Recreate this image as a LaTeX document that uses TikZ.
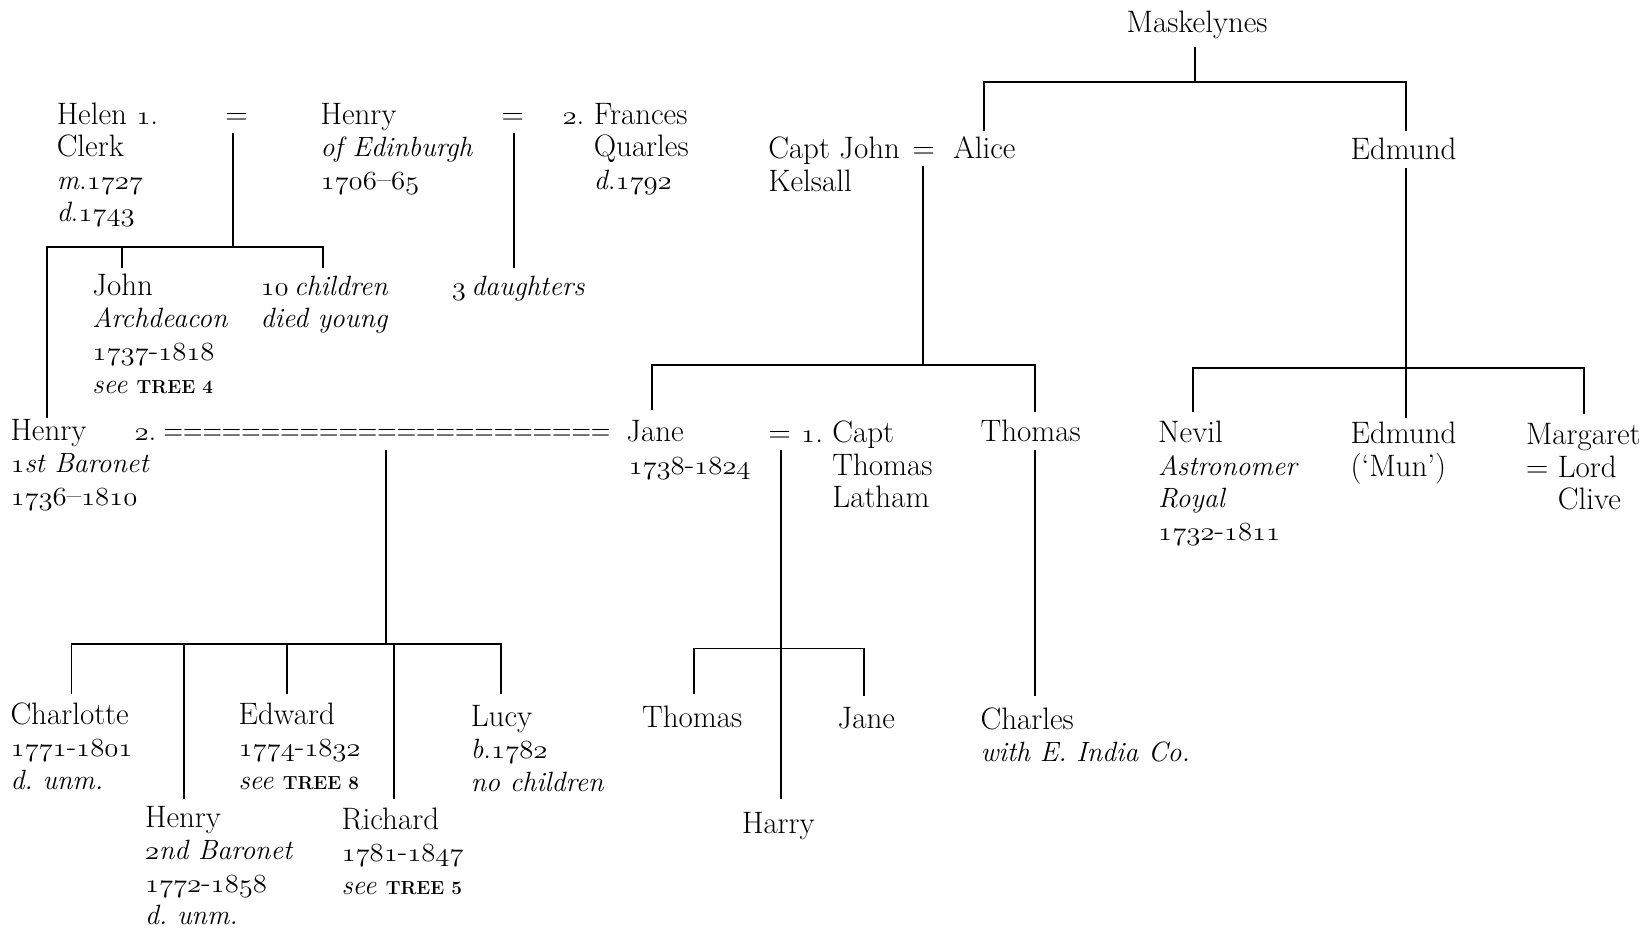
\documentclass[tikz,border=0pt]{standalone}
\usepackage{graphicx}
\newcommand\osn[1]{\scalebox{1.1}[1]{\ifdefined\legacyoldstylenums\legacyoldstylenums{#1}\else\oldstylenums{#1}\fi}}
\newcommand\plines[1]{\begin{tabular}[t]{@{}l@{}}#1\end{tabular}}
\newcommand\myit[1]{{\fontsize{26.5}{31}\selectfont\itshape #1}}
\newcommand\treeref[1]{\myit{see} {\fontsize{18}{18}\selectfont\bfseries TREE #1}}
\newcommand\fs{\fontsize{29.5}{31}\selectfont}
\begin{document}
\begin{tikzpicture}[x=1pt,y=-1pt,
  every node/.style={inner sep=0pt,outer sep=0pt,font=\fs},
  person/.style={anchor=base west},
  mid/.style={anchor=base},
  link/.style={line width=1.8pt}]
\useasboundingbox (0,0) rectangle (1568,883);

% ---- Maskelyne side ----
\node[mid] (mask) at (1139,31) {Maskelynes};
\node[person] (cjohn) at (731,151) {\plines{Capt John\\Kelsall}};
\node[mid] (eqA) at (879,151) {=};
\node[person] (alice) at (907,151) {Alice};
\node[person] (edm) at (1285,152) {Edmund};
\node[person] (jane) at (596,420) {\plines{Jane\\\hspace{2pt}\osn{1738}-\osn{1824}}};
\node[mid] (eqJ) at (742,421) {=};
\node[person] (capt) at (792,421) {\plines{\llap{\osn{1}.\ }Capt\\Thomas\\Latham}};
\node[person] (thomasK) at (933,420) {Thomas};
\node[person] (nevil) at (1102,421) {\plines{Nevil\\\myit{Astronomer}\\\myit{Royal}\\\osn{1732}-\osn{1811}}};
\node[person] (mun) at (1285,422) {\plines{Edmund\\(`Mun')}};
\node[person] (marg) at (1452,423) {\plines{Margaret\\= Lord\\\hphantom{= }Clive}};
\node[person] (thomasL) at (611,692) {Thomas};
\node[person] (janeL) at (797,693) {Jane};
\node[person] (harry) at (706,793) {Harry};
\node[person] (charles) at (933,694) {\plines{Charles\\\myit{with E.\ India Co.}}};

% ---- Clerk side ----
\node[person] (helen) at (54,118) {\plines{Helen \osn{1}.\\Clerk\\\myit{m}.\osn{1727}\\\myit{d}.\osn{1743}}};
\node[mid] (eq1) at (225,118) {=};
\node[person] (henryE) at (305,118) {\plines{Henry\\\myit{of Edinburgh}\\\osn{1706}--\osn{65}}};
\node[mid] (eq2) at (488,118) {=};
\node[person] (frances) at (565,118) {\plines{\llap{\osn{2}.\ }Frances\\Quarles\\\myit{d}.\osn{1792}}};
\node[person] (john) at (88,281) {\plines{John\\\myit{Archdeacon}\\\osn{1737}-\osn{1818}\\\treeref{4}}};
\node[person] (ten) at (248,281) {\plines{\myit{\osn{10}\hspace{5pt}children}\\\myit{died young}}};
\node[person] (three) at (430,281) {\myit{\osn{3}\hspace{5pt}daughters}};
\node[person] (henry1) at (10,419) {\plines{Henry\\\myit{\osn{1}st Baronet}\\\osn{1736}--\osn{1810}}};
\node[person] (marr) at (128,419) {\osn{2}.\hspace{7pt}\scalebox{0.87}[1]{=======================}};
\node[person] (charlotte) at (10,689) {\plines{Charlotte\\\osn{1771}-\osn{1801}\\\myit{d.\ unm.}}};
\node[person] (henry2) at (138,787) {\plines{Henry\\\myit{\osn{2}nd Baronet}\\\osn{1772}-\osn{1858}\\\myit{d.\ unm.}}};
\node[person] (edward) at (227,689) {\plines{Edward\\\osn{1774}-\osn{1832}\\\treeref{8}}};
\node[person] (richard) at (325,789) {\plines{Richard\\\osn{1781}-\osn{1847}\\\treeref{5}}};
\node[person] (lucy) at (448,691) {\plines{Lucy\\\myit{b}.\osn{1782}\\\myit{no children}}};

% ---- junction coordinates ----
\coordinate (mkT) at (1137,45);   \coordinate (mkJ) at (1137,78);
\coordinate (aliceT) at (936,125); \coordinate (aliceJ) at (936,78);
\coordinate (edmT) at (1338,125);  \coordinate (edmJ) at (1338,78);
\coordinate (kelT) at (878,158);   \coordinate (kelJ) at (878,347);
\coordinate (janeT) at (620,390);  \coordinate (janeJ) at (620,347);
\coordinate (thkT) at (985,392);   \coordinate (thkJ) at (985,347);
\coordinate (edmB) at (1338,160);  \coordinate (munT) at (1338,398);
\coordinate (nevT) at (1135,392);  \coordinate (nevJ) at (1135,350);
\coordinate (margT) at (1507,394); \coordinate (margJ) at (1507,350);
\coordinate (latT) at (743,428);   \coordinate (harryT) at (743,760);
\coordinate (thlT) at (660,660);   \coordinate (thlJ) at (660,617);
\coordinate (jlT) at (822,662);    \coordinate (jlJ) at (822,617);
\coordinate (thkB) at (985,428);   \coordinate (charT) at (985,662);
\coordinate (hhT) at (222,127);    \coordinate (hhJ) at (222,235);
\coordinate (h1T) at (45,398);     \coordinate (h1J) at (45,235);
\coordinate (johnT) at (116,255);  \coordinate (johnJ) at (116,235);
\coordinate (tenT) at (307,255);   \coordinate (tenJ) at (307,235);
\coordinate (hfT) at (489,127);    \coordinate (threeT) at (489,255);
\coordinate (mrT) at (367,428);    \coordinate (mrJ) at (367,613);
\coordinate (chT) at (68,660);     \coordinate (chJ) at (68,613);
\coordinate (h2T) at (175,760);    \coordinate (h2J) at (175,613);
\coordinate (edT) at (273,660);    \coordinate (edJ) at (273,613);
\coordinate (riT) at (375,760);    \coordinate (riJ) at (375,613);
\coordinate (luT) at (477,660);    \coordinate (luJ) at (477,613);

% ---- connectors ----
\draw[link] (mkT) -- (mkJ);
\draw[link] (aliceT) -- (aliceJ) -- (edmJ) -- (edmT);
\draw[link] (kelT) -- (kelJ);
\draw[link] (janeT) -- (janeJ) -- (thkJ) -- (thkT);
\draw[link] (edmB) -- (munT);
\draw[link] (nevT) -- (nevJ) -- (margJ) -- (margT);
\draw[link] (latT) -- (harryT);
\draw[link] (thlT) -- (thlJ) -- (jlJ) -- (jlT);
\draw[link] (thkB) -- (charT);
\draw[link] (hhT) -- (hhJ);
\draw[link] (h1T) -- (h1J) -- (tenJ) -- (tenT);
\draw[link] (johnJ) -- (johnT);
\draw[link] (hfT) -- (threeT);
\draw[link] (mrT) -- (mrJ);
\draw[link] (chT) -- (chJ) -- (luJ) -- (luT);
\draw[link] (h2J) -- (h2T);
\draw[link] (edJ) -- (edT);
\draw[link] (riJ) -- (riT);
\end{tikzpicture}
\end{document}
